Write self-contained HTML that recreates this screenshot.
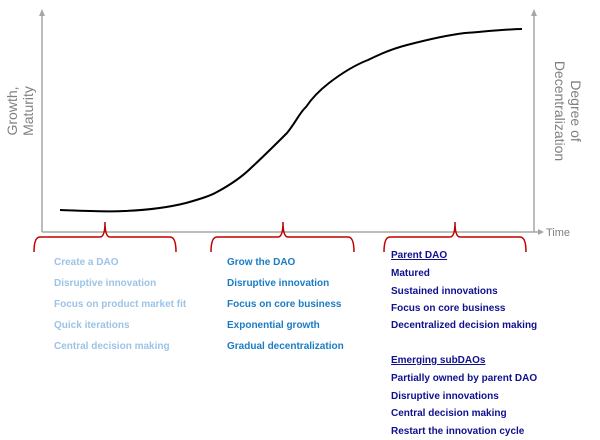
<!DOCTYPE html>
<html><head><style>
body{margin:0;background:#fff;width:600px;height:440px;overflow:hidden}
svg{display:block}
text{font-family:"Liberation Sans",sans-serif}
.t{font-size:10px;font-weight:bold}
</style></head><body>
<svg width="600" height="440" viewBox="0 0 600 440">
<g stroke="#a6a6a6" stroke-width="1.5" fill="none">
<line x1="42" y1="232" x2="42" y2="14"/>
<line x1="534" y1="232" x2="534" y2="14"/>
<line x1="42" y1="232" x2="539" y2="232"/>
</g>
<g fill="#a6a6a6">
<polygon points="39,16 42,9 45,16"/>
<polygon points="531,16 534,9 537,16"/>
<polygon points="538,229 544,232 538,235"/>
</g>
<text x="546" y="236" font-size="11" fill="#808080">Time</text>
<text transform="translate(21,111) rotate(-90)" text-anchor="middle" font-size="14" fill="#808080"><tspan x="0" y="-4">Growth,</tspan><tspan x="0" y="12">Maturity</tspan></text>
<text transform="translate(567,111) rotate(90)" text-anchor="middle" font-size="14" fill="#808080"><tspan x="0" y="-4">Degree of</tspan><tspan x="0" y="12">Decentralization</tspan></text>
<path d="M60,210 C90,211 110,212 124,211 C150,210 170,207 186,203 C200,199 210,196 217,192 C230,185 242,177 252,167 C265,155 277,143 287,133 C296,122 300,112 306,107 C312,98 320,90 329,83 C342,73 355,65 368,60 C382,53 395,48 407,45 C430,39 448,35 465,33 C490,31 510,29 522,29" stroke="#000" stroke-width="2" fill="none"/>
<g stroke="#c00000" stroke-width="1.5" fill="none">
<path d="M34,252 Q34,237 40,237 L100,237 Q105,237 105,222 Q105,237 110,237 L170,237 Q176,237 176,252"/>
<path d="M211,252 Q211,237 217,237 L278,237 Q283,237 283,222 Q283,237 288,237 L348,237 Q354,237 354,252"/>
<path d="M384,252 Q384,237 390,237 L450,237 Q455,237 455,222 Q455,237 460,237 L520,237 Q526,237 526,252"/>
</g>
<g fill="#9dc3e6">
<text x="54" y="265" class="t">Create a DAO</text>
<text x="54" y="286" class="t">Disruptive innovation</text>
<text x="54" y="307" class="t">Focus on product market fit</text>
<text x="54" y="328" class="t">Quick iterations</text>
<text x="54" y="349" class="t">Central decision making</text>
</g>
<g fill="#1b7cc4">
<text x="227" y="265" class="t">Grow the DAO</text>
<text x="227" y="286" class="t">Disruptive innovation</text>
<text x="227" y="307" class="t">Focus on core business</text>
<text x="227" y="328" class="t">Exponential growth</text>
<text x="227" y="349" class="t">Gradual decentralization</text>
</g>
<g fill="#10108f">
<text x="391" y="258" class="t" text-decoration="underline">Parent DAO</text>
<text x="391" y="276" class="t">Matured</text>
<text x="391" y="294" class="t">Sustained innovations</text>
<text x="391" y="311" class="t">Focus on core business</text>
<text x="391" y="328" class="t">Decentralized decision making</text>
<text x="391" y="363" class="t" text-decoration="underline">Emerging subDAOs</text>
<text x="391" y="381" class="t">Partially owned by parent DAO</text>
<text x="391" y="399" class="t">Disruptive innovations</text>
<text x="391" y="416" class="t">Central decision making</text>
<text x="391" y="434" class="t">Restart the innovation cycle</text>
</g>
</svg>
</body></html>
